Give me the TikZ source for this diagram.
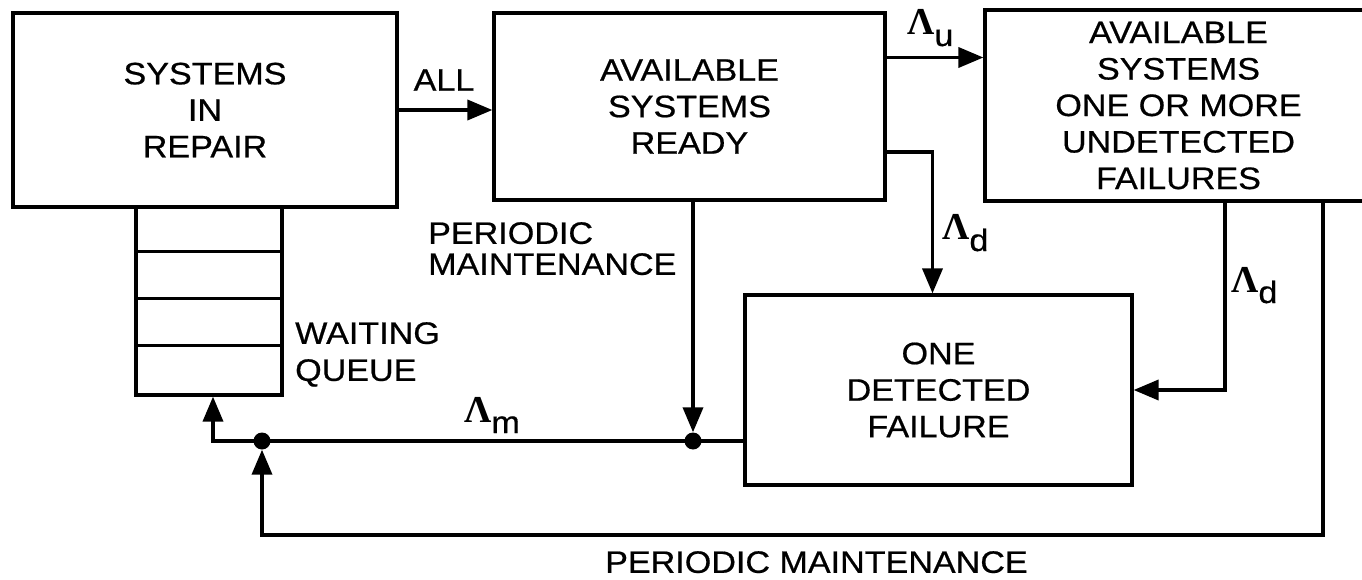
\documentclass[tikz,border=0pt]{standalone}
\usepackage{fontspec}
\setmainfont{Liberation Sans}[FakeStretch=1.1,FakeBold=0.6]
\newfontfamily\lamfont{Liberation Serif}
\usetikzlibrary{arrows.meta}
\newcommand{\Lam}[1]{{\fontsize{38}{38}\lamfont\bfseries Λ}\raisebox{-11pt}{\fontsize{31}{31}\selectfont #1}}
\begin{document}
\begin{tikzpicture}[x=1pt,y=-1pt,
  txt/.style={font=\fontsize{31}{36.5}\selectfont, inner sep=0pt},
  box/.style={draw, line width=3.2pt, align=center, inner sep=0pt, font=\fontsize{31}{36.5}\selectfont},
  conn/.style={line width=3.6pt},
  arr/.style={conn, -{Triangle[length=25pt,width=20pt]}},
  dot/.style={circle, fill, inner sep=0pt, minimum size=17pt}]
\useasboundingbox (0,0) rectangle (1362,580);
\clip (0,0) rectangle (1362,580);
% boxes
\node[box, minimum width=384pt, minimum height=194pt] (repair) at (205,110) {SYSTEMS\\IN\\REPAIR};
\node[box, minimum width=391pt, minimum height=187pt] (ready) at (689.5,106.5) {AVAILABLE\\SYSTEMS\\READY};
\node[box, minimum width=387pt, minimum height=191pt] (undet) at (1178.5,105.5) {AVAILABLE\\SYSTEMS\\ONE OR MORE\\UNDETECTED\\FAILURES};
\node[box, minimum width=387pt, minimum height=190pt] (det) at (938.5,390) {ONE\\DETECTED\\FAILURE};
\node[draw, line width=3.2pt, inner sep=0pt, minimum width=146pt, minimum height=188pt] (queue) at (209,301) {};
\foreach \d in {46,93,140}
  \draw[line width=3.2pt] ([yshift=-\d pt]queue.north west) -- ([yshift=-\d pt]queue.north east);
% junctions
\node[dot] (d1) at (262,441) {};
\node[dot] (d2) at (693,441) {};
\coordinate (c1) at (262,535);
% connectors
\draw[arr] (repair.east) -- (repair.east -| ready.west);
\draw[arr] ([yshift=49pt]ready.east) -- ([yshift=49pt]ready.east -| undet.west);
\draw[arr] ([yshift=-45.5pt]ready.east) -| ([xshift=-6pt]det.north);
\draw[arr] ([xshift=46.5pt]undet.south) |- (det.east);
\draw[arr] ([xshift=3.5pt]ready.south) -- (d2);
\draw[conn] ([yshift=-51pt]det.west) -- (d2.center) -- (d1.center);
\draw[arr] (d1.center) -| ([xshift=4pt]queue.south);
\draw[arr] ([xshift=144.5pt]undet.south) |- (c1) -- (d1);
% labels
\node[txt] (all) at (444,80) {ALL};
\node[inner sep=0pt, anchor=base west] (lu) at (907,35) {\Lam{u}};
\node[inner sep=0pt, anchor=base west] (ld1) at (942,240) {\Lam{d}};
\node[inner sep=0pt, anchor=base west] (ld2) at (1231,292) {\Lam{d}};
\node[inner sep=0pt, anchor=base west] (lm) at (464,422) {\Lam{m}};
\node[txt, align=left, anchor=north west, font=\fontsize{31}{31}\selectfont] (pm1) at (428,222) {PERIODIC\\MAINTENANCE};
\node[txt, align=left, anchor=north west, font=\fontsize{31}{37}\selectfont] (wq) at (295,322) {WAITING\\QUEUE};
\node[txt, anchor=north west] (pm2) at (605,551) {PERIODIC MAINTENANCE};
\end{tikzpicture}
\end{document}
